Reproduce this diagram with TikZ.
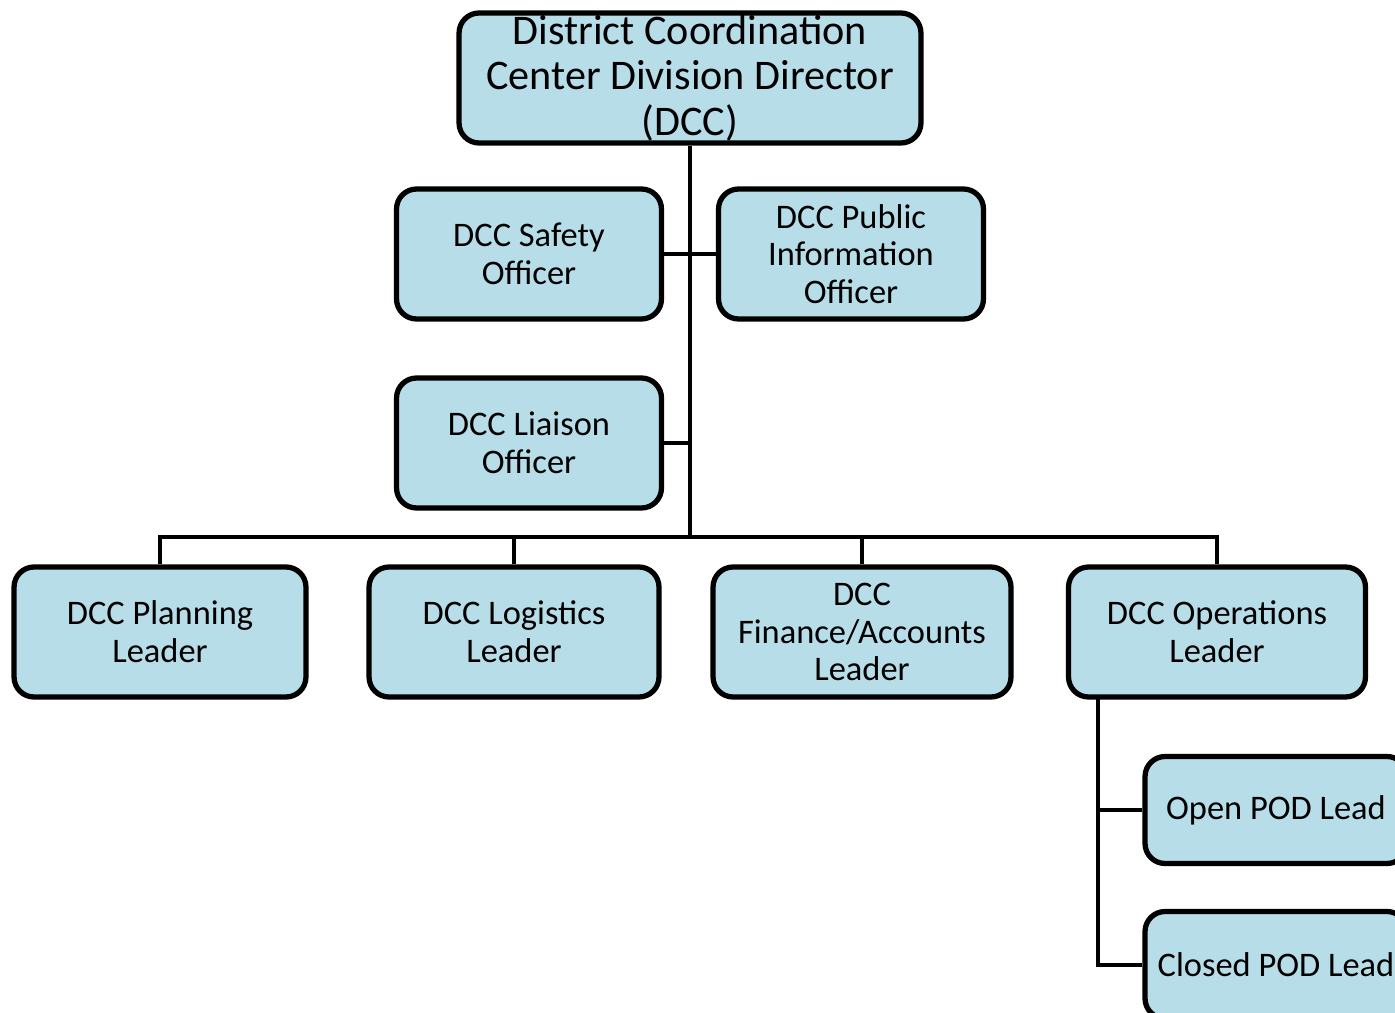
\documentclass[tikz,border=0pt]{standalone}
\usepackage{fontspec}
\setmainfont{Carlito}
\usepackage{tikz}
\usetikzlibrary{positioning}
\definecolor{boxblue}{RGB}{183,221,232}

\begin{document}
\begin{tikzpicture}[x=0.02cm, y=-0.02cm,
    orgbox/.style={draw, line width=3pt, fill=boxblue, rounded corners=0.4cm,
      align=center, inner xsep=2pt, inner ysep=0pt, minimum height=2.6cm,
      font=\fontsize{19.6}{21.5}\selectfont},
    link/.style={line width=2.6pt}]
  \useasboundingbox (0,0) rectangle (1395,1013);
  \clip (0,0) rectangle (1395,1013);
  \node [orgbox, minimum width=9.24cm, font=\fontsize{24}{26}\selectfont]
    (dcc) at (690,78) {District Coordination\\Center Division Director\\(DCC)};
  \node [orgbox, minimum width=5.3cm] (safety) at (529,254) {DCC Safety\\Officer};
  \node [orgbox, minimum width=5.3cm] (pio) at (851,254) {DCC Public\\Information\\Officer};
  \node [orgbox, minimum width=5.3cm] (liaison) at (529,443) {DCC Liaison\\Officer};
  \node [orgbox, minimum width=5.84cm] (planning) at (160,632) {DCC Planning\\Leader};
  \node [orgbox, minimum width=5.8cm] (logistics) at (514,632) {DCC Logistics\\Leader};
  \node [orgbox, minimum width=5.96cm] (finance) at (862,632) {DCC\\Finance/Accounts\\Leader};
  \node [orgbox, minimum width=5.94cm] (ops) at (1217,632) {DCC Operations\\Leader};
  \node [orgbox, minimum width=5.24cm, minimum height=2.14cm] (openpod) at (1276,810) {Open POD Lead};
  \node [orgbox, minimum width=5.24cm, minimum height=2.14cm] (closedpod) at (1276,965) {Closed POD Lead};
  \coordinate (bar) at (690,537);
  \coordinate (opsdrop) at (1098,698);
  \draw [link] (dcc.south) -- (bar);
  \draw [link] (safety.east) -- (pio.west);
  \draw [link] (liaison.east) -- (liaison.east -| bar);
  \draw [link] (planning.north) -- (planning.north |- bar) -- (ops.north |- bar) -- (ops.north);
  \draw [link] (logistics.north) -- (logistics.north |- bar);
  \draw [link] (finance.north) -- (finance.north |- bar);
  \draw [link] (opsdrop) |- (closedpod.west);
  \draw [link] (opsdrop |- openpod.west) -- (openpod.west);
\end{tikzpicture}
\end{document}
